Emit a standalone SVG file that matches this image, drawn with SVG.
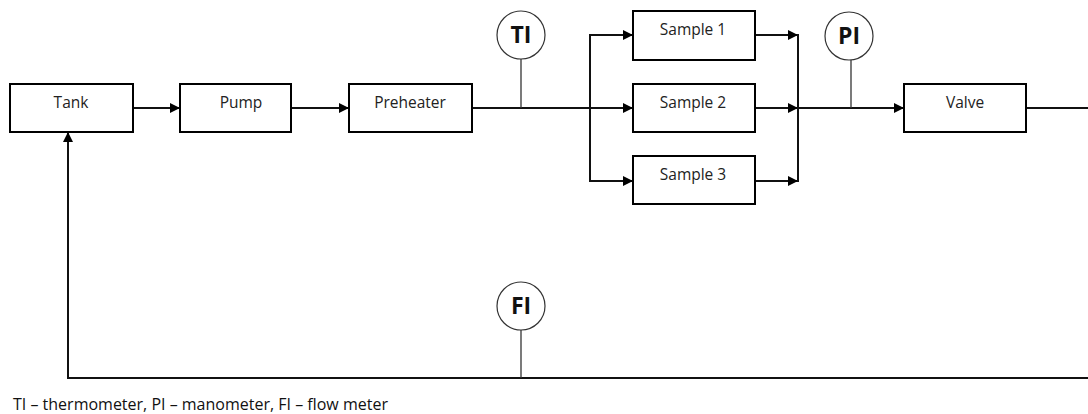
<svg xmlns="http://www.w3.org/2000/svg" width="1088" height="414" viewBox="0 0 1088 414">
<style>
.box{fill:#fff;stroke:#000;stroke-width:2}
.lbl{font-family:"Open Sans","Liberation Sans",sans-serif;font-size:15.5px;fill:#222;text-anchor:middle}
.inst{fill:#fff;stroke:#333;stroke-width:1.2}
.itxt{font-family:"Open Sans","Liberation Sans",sans-serif;font-size:23px;font-weight:bold;fill:#111;text-anchor:middle}
.ln{fill:none;stroke:#111;stroke-width:2}
.stem{fill:none;stroke:#333;stroke-width:1.3}
.leg{font-family:"Open Sans","Liberation Sans",sans-serif;font-size:16px;fill:#111}
</style>
<defs>
<marker id="ah" markerWidth="10" markerHeight="10" refX="10" refY="5" orient="auto" markerUnits="userSpaceOnUse">
<path d="M0,0 L10,5 L0,10 z" fill="#000"/>
</marker>
</defs>
<rect width="1088" height="414" fill="#fff"/>
<g id="connectors">
<line class="ln" x1="133" y1="108" x2="180" y2="108" marker-end="url(#ah)"/>
<line class="ln" x1="291" y1="108" x2="349" y2="108" marker-end="url(#ah)"/>
<line class="ln" x1="472" y1="108" x2="633" y2="108" marker-end="url(#ah)"/>
<polyline class="ln" points="590,108 590,35 633,35" marker-end="url(#ah)"/>
<polyline class="ln" points="590,108 590,181 633,181" marker-end="url(#ah)"/>
<line class="ln" x1="755" y1="35" x2="798" y2="35" marker-end="url(#ah)"/>
<line class="ln" x1="755" y1="108" x2="798" y2="108" marker-end="url(#ah)"/>
<line class="ln" x1="755" y1="181" x2="798" y2="181" marker-end="url(#ah)"/>
<line class="ln" x1="798" y1="34" x2="798" y2="182"/>
<line class="ln" x1="798" y1="108" x2="904" y2="108" marker-end="url(#ah)"/>
<line class="ln" x1="1026" y1="108" x2="1088" y2="108"/>
<polyline class="ln" points="1088,378 68,378 68,132" marker-end="url(#ah)"/>
<line class="stem" x1="521" y1="59" x2="521" y2="108"/>
<line class="stem" x1="851" y1="60" x2="851" y2="108"/>
<line class="stem" x1="521" y1="330" x2="521" y2="378"/>
</g>
<g id="tank"><rect class="box" x="10" y="84" width="123" height="48"/><text class="lbl" x="71" y="108">Tank</text></g>
<g id="pump"><rect class="box" x="180" y="84" width="111" height="48"/><text class="lbl" x="241" y="108">Pump</text></g>
<g id="preheater"><rect class="box" x="349" y="84" width="123" height="48"/><text class="lbl" x="410" y="108">Preheater</text></g>
<g id="sample1"><rect class="box" x="633" y="11" width="122" height="49"/><text class="lbl" x="693" y="35">Sample 1</text></g>
<g id="sample2"><rect class="box" x="633" y="84" width="122" height="48"/><text class="lbl" x="693" y="108">Sample 2</text></g>
<g id="sample3"><rect class="box" x="633" y="156" width="122" height="48"/><text class="lbl" x="693" y="180">Sample 3</text></g>
<g id="valve"><rect class="box" x="904" y="84" width="122" height="48"/><text class="lbl" x="965" y="108">Valve</text></g>
<g id="ti"><circle class="inst" cx="521" cy="35" r="24"/><text class="itxt" x="521" y="43">TI</text></g>
<g id="pi"><circle class="inst" cx="849" cy="36" r="24"/><text class="itxt" x="849" y="44">PI</text></g>
<g id="fi"><circle class="inst" cx="521" cy="306" r="24"/><text class="itxt" x="521" y="314">FI</text></g>
<text class="leg" x="13" y="410">TI – thermometer, PI – manometer, FI – flow meter</text>
</svg>
